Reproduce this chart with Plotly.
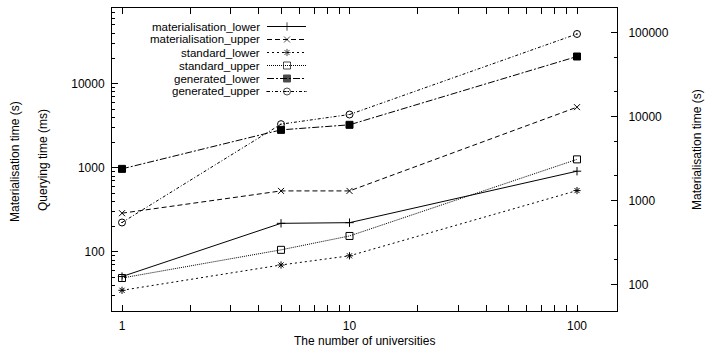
import plotly.graph_objects as go

# ---- data (left-axis scale) ----
universities = [1, 5, 10, 100]
materialisation_lower = [51, 219, 223, 913]
materialisation_upper = [289, 532, 532, 5270]
standard_lower = [35, 70, 90, 537]
standard_upper = [49, 106, 155, 1262]
generated_lower = [973, 2830, 3250, 21100]
generated_upper = [224, 3310, 4310, 39100]

series_names = ["materialisation_lower", "materialisation_upper", "standard_lower",
                "standard_upper", "generated_lower", "generated_upper"]
series_values = [materialisation_lower, materialisation_upper, standard_lower,
                 standard_upper, generated_lower, generated_upper]

x_tick_vals = [1, 10, 100]
x_tick_text = ["1", "10", "100"]
y_tick_vals = [100, 1000, 10000]
y_tick_text = ["100", "1000", "10000"]
y2_tick_vals = [100, 1000, 10000, 100000]
y2_tick_text = ["100", "1000", "10000", "100000"]

x_title = "The number of universities"
y_title_inner = "Querying time (ms)"
y_title_outer = "Materialisation time (s)"
y2_title = "Materialisation time (s)"

# ---- styles ----
styles = [
    dict(dash="solid", symbol="cross-thin", size=6),
    dict(dash="5px,3px", symbol="x-thin", size=6),
    dict(dash="2px,3px", symbol="asterisk", size=6),
    dict(dash="1px,1px", symbol="square-open", size=7),
    dict(dash="7px,2px,2px,2px", symbol="square", size=7),
    dict(dash="3px,2px,1px,2px", symbol="circle-open-dot", size=7),
]

W, H = 713, 349
L, R, T, B = 112, 96, 8, 38
PW, PH = W - L - R, H - T - B


def px(x):
    return (x - L) / PW


def py(y):
    return 1 - (y - T) / PH


FONT = "Liberation Sans, Arial, Helvetica, sans-serif"

fig = go.Figure()
for name, vals, st in zip(series_names, series_values, styles):
    fig.add_trace(go.Scatter(
        x=universities, y=vals, name=name, mode="lines+markers",
        line=dict(color="black", width=1, dash=st["dash"]),
        marker=dict(symbol=st["symbol"], size=st["size"], color="black",
                    line=dict(color="black", width=1)),
        showlegend=False, xaxis="x", yaxis="y",
    ))

# invisible trace to activate the right-hand axis
fig.add_trace(go.Scatter(x=[universities[0]], y=[y2_tick_vals[0]], mode="markers",
                         marker=dict(opacity=0), showlegend=False, hoverinfo="skip",
                         xaxis="x", yaxis="y2"))

# custom gnuplot-style legend (text left, sample right)
row0, row_step = 26.5, 13.0
annotations = []
for i, (name, st) in enumerate(zip(series_names, styles)):
    yrow = row0 + i * row_step
    fig.add_trace(go.Scatter(
        x=[267, 287, 306], y=[yrow] * 3, mode="lines+markers",
        line=dict(color="black", width=1, dash=st["dash"]),
        marker=dict(symbol=st["symbol"], size=[0, st["size"], 0], color="black",
                    line=dict(color="black", width=1)),
        showlegend=False, hoverinfo="skip", xaxis="x3", yaxis="y3",
    ))
    annotations.append(dict(text=name, x=px(261), y=py(yrow), xref="paper", yref="paper",
                            xanchor="right", yanchor="middle", showarrow=False,
                            borderpad=0,
                            font=dict(size=11.5, color="black", family=FONT)))

annotations += [
    dict(text=x_title, x=px(364), y=py(341), xref="paper", yref="paper",
         xanchor="center", yanchor="middle", showarrow=False,
         font=dict(size=12, color="black", family=FONT)),
    dict(text=y_title_inner, x=px(43), y=py(160), xref="paper", yref="paper",
         xanchor="center", yanchor="middle", showarrow=False, textangle=-90,
         font=dict(size=12, color="black", family=FONT)),
    dict(text=y_title_outer, x=px(15), y=py(162), xref="paper", yref="paper",
         xanchor="center", yanchor="middle", showarrow=False, textangle=-90,
         font=dict(size=12, color="black", family=FONT)),
    dict(text=y2_title, x=px(697), y=py(150), xref="paper", yref="paper",
         xanchor="center", yanchor="middle", showarrow=False, textangle=-90,
         font=dict(size=12, color="black", family=FONT)),
]

x_minor = [m * d for d in (1, 10) for m in range(2, 10)]
y_minor = [m * d for d in (10, 100, 1000, 10000) for m in range(2, 10)]
y2_minor = [m * d for d in (100, 1000, 10000) for m in (2, 5)]

fig.update_layout(
    width=W, height=H, margin=dict(l=L, r=R, t=T, b=B, autoexpand=False),
    paper_bgcolor="white", plot_bgcolor="white",
    font=dict(family=FONT, size=12, color="black"),
    xaxis=dict(type="log", range=[-0.044, 2.1758], tickvals=x_tick_vals, ticktext=x_tick_text,
               ticks="inside", ticklen=6, tickcolor="black", tickwidth=1,
               showline=True, linecolor="black", linewidth=1, mirror="allticks",
               showgrid=False, zeroline=False, ticklabelstandoff=4,
               minor=dict(tickvals=x_minor, ticks="inside", ticklen=3,
                          tickcolor="black", showgrid=False),
               tickfont=dict(size=12, color="black")),
    yaxis=dict(type="log", range=[1.298, 4.901], tickvals=y_tick_vals, ticktext=y_tick_text,
               ticks="inside", ticklen=6, tickcolor="black", tickwidth=1,
               showline=True, linecolor="black", linewidth=1, mirror=True,
               showgrid=False, zeroline=False, ticklabelstandoff=4,
               minor=dict(tickvals=y_minor, ticks="inside", ticklen=3,
                          tickcolor="black", showgrid=False),
               tickfont=dict(size=12, color="black")),
    yaxis2=dict(type="log", range=[1.688, 5.291], tickvals=y2_tick_vals, ticktext=y2_tick_text,
                overlaying="y", side="right", anchor="x",
                ticks="inside", ticklen=6, tickcolor="black", tickwidth=1,
                showline=True, linecolor="black", linewidth=1,
                showgrid=False, zeroline=False, ticklabelstandoff=8,
                minor=dict(tickvals=y2_minor, ticks="inside", ticklen=3,
                           tickcolor="black", showgrid=False),
                tickfont=dict(size=12, color="black")),
    xaxis3=dict(overlaying="x", range=[L, L + PW], visible=False, anchor="y3"),
    yaxis3=dict(overlaying="y", range=[T + PH, T], visible=False, anchor="x3"),
    annotations=annotations,
    showlegend=False,
)

fig.write_html("out.html", config={"displayModeBar": False},
               post_script="document.body.style.margin='0';document.body.style.overflow='hidden';")
